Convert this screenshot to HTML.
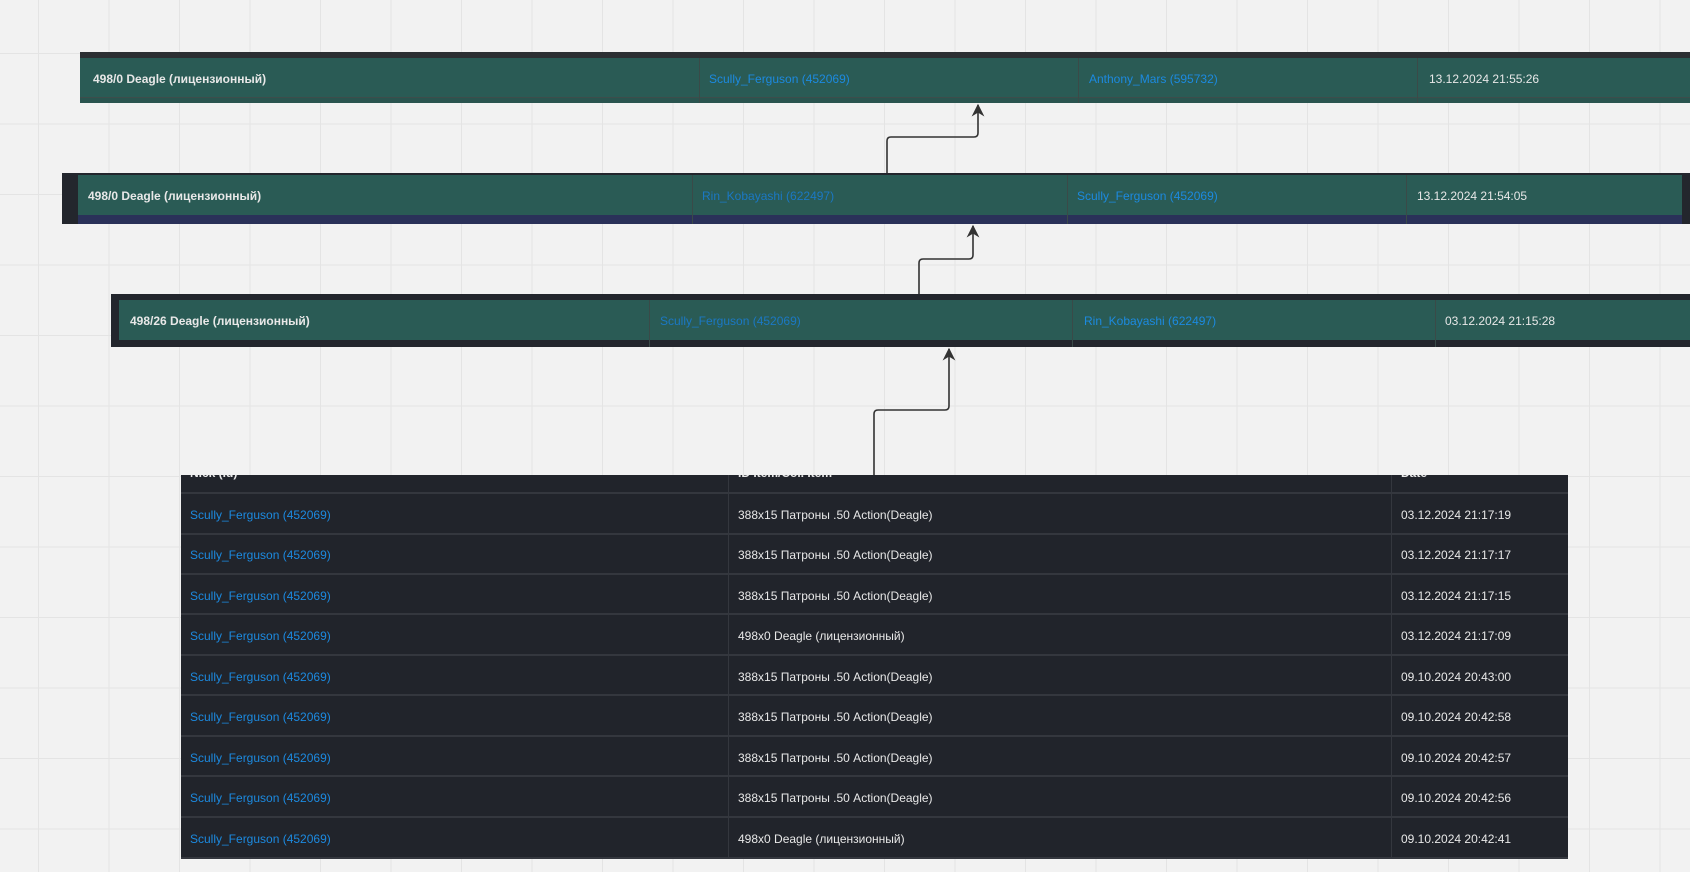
<!DOCTYPE html>
<html><head><meta charset="utf-8"><style>
*{margin:0;padding:0;box-sizing:border-box}
body{width:1690px;height:872px;overflow:hidden;position:relative;background-color:#f2f2f2;
background-image:linear-gradient(to right,#e4e4e4 1px,transparent 1px),linear-gradient(to bottom,#e4e4e4 1px,transparent 1px);
background-size:70.5px 70.5px;background-position:38px 53px;font-family:"Liberation Sans","DejaVu Sans",sans-serif;font-size:12px}
.abs{position:absolute}
.bar{position:absolute;overflow:hidden}
.t{position:absolute;white-space:nowrap;line-height:14px;color:#e8e8e8}
.b{font-weight:bold}
.l{color:#1c8ae0}
.vl{position:absolute;width:1px;background:#3a4a48}
.tb{position:absolute;left:181px;top:475px;width:1387px;height:384px;background:#21242b;overflow:hidden}
.row{position:absolute;left:0;width:1387px;height:2px;background:#34373e}
.tv{position:absolute;top:0;width:1px;height:384px;background:#34373e}
</style></head><body>

<div class="bar" style="left:80px;top:52px;width:1610px;height:51px;background:#2c2f33">
  <div class="abs" style="left:0;top:6px;width:1610px;height:40px;background:#2a5b55"></div>
  <div class="abs" style="left:0;top:46px;width:1610px;height:5px;background:#2a5b55;opacity:.85"></div>
  <div class="abs" style="left:0;top:45px;width:1610px;height:1px;background:#3d4d4b"></div>
  <div class="vl" style="left:619px;top:6px;height:45px"></div>
  <div class="vl" style="left:998px;top:6px;height:45px"></div>
  <div class="vl" style="left:1337px;top:6px;height:45px"></div>
</div>
<div class="t b" style="left:93px;top:72px">498/0 Deagle (лицензионный)</div>
<div class="t l" style="left:709px;top:72px">Scully_Ferguson (452069)</div>
<div class="t l" style="left:1089px;top:72px">Anthony_Mars (595732)</div>
<div class="t" style="left:1429px;top:72px">13.12.2024 21:55:26</div>

<div class="bar" style="left:62px;top:173px;width:1628px;height:51px;background:#23262d">
  <div class="abs" style="left:16px;top:2px;width:1604px;height:40px;background:#2a5b55"></div>
  <div class="abs" style="left:16px;top:42px;width:1604px;height:9px;background:#2a3159"></div>
  <div class="vl" style="left:630px;top:2px;height:49px"></div>
  <div class="vl" style="left:1005px;top:2px;height:49px"></div>
  <div class="vl" style="left:1344px;top:2px;height:49px"></div>
</div>
<div class="t b" style="left:88px;top:189px">498/0 Deagle (лицензионный)</div>
<div class="t l" style="left:702px;top:189px;color:#1b78c4">Rin_Kobayashi (622497)</div>
<div class="t l" style="left:1077px;top:189px">Scully_Ferguson (452069)</div>
<div class="t" style="left:1417px;top:189px">13.12.2024 21:54:05</div>

<div class="bar" style="left:111px;top:294px;width:1579px;height:53px;background:#23262d">
  <div class="abs" style="left:8px;top:6px;width:1571px;height:40px;background:#2a5b55"></div>
  <div class="vl" style="left:538px;top:6px;height:47px"></div>
  <div class="vl" style="left:961px;top:6px;height:47px"></div>
  <div class="vl" style="left:1324px;top:6px;height:47px"></div>
</div>
<div class="t b" style="left:130px;top:314px">498/26 Deagle (лицензионный)</div>
<div class="t l" style="left:660px;top:314px;color:#1b78c4">Scully_Ferguson (452069)</div>
<div class="t l" style="left:1084px;top:314px">Rin_Kobayashi (622497)</div>
<div class="t" style="left:1445px;top:314px">03.12.2024 21:15:28</div>

<div class="tb">
  <div class="t b" style="left:9px;top:-9px">Nick (Id)</div>
  <div class="t b" style="left:557px;top:-9px">ID Item/Col. Item</div>
  <div class="t b" style="left:1220px;top:-9px">Date</div>
  <div class="row" style="top:17px"></div>
  <div class="row" style="top:58px"></div>
  <div class="row" style="top:98px"></div>
  <div class="row" style="top:138px"></div>
  <div class="row" style="top:179px"></div>
  <div class="row" style="top:219px"></div>
  <div class="row" style="top:260px"></div>
  <div class="row" style="top:300px"></div>
  <div class="row" style="top:341px"></div>
  <div class="row" style="top:382px"></div>
  <div class="tv" style="left:547px"></div>
  <div class="tv" style="left:1210px"></div>
</div>

<div class="t l" style="left:190px;top:508px">Scully_Ferguson (452069)</div><div class="t" style="left:738px;top:508px">388x15 Патроны .50 Action(Deagle)</div><div class="t" style="left:1401px;top:508px">03.12.2024 21:17:19</div>
<div class="t l" style="left:190px;top:548px">Scully_Ferguson (452069)</div><div class="t" style="left:738px;top:548px">388x15 Патроны .50 Action(Deagle)</div><div class="t" style="left:1401px;top:548px">03.12.2024 21:17:17</div>
<div class="t l" style="left:190px;top:589px">Scully_Ferguson (452069)</div><div class="t" style="left:738px;top:589px">388x15 Патроны .50 Action(Deagle)</div><div class="t" style="left:1401px;top:589px">03.12.2024 21:17:15</div>
<div class="t l" style="left:190px;top:629px">Scully_Ferguson (452069)</div><div class="t" style="left:738px;top:629px">498x0 Deagle (лицензионный)</div><div class="t" style="left:1401px;top:629px">03.12.2024 21:17:09</div>
<div class="t l" style="left:190px;top:670px">Scully_Ferguson (452069)</div><div class="t" style="left:738px;top:670px">388x15 Патроны .50 Action(Deagle)</div><div class="t" style="left:1401px;top:670px">09.10.2024 20:43:00</div>
<div class="t l" style="left:190px;top:710px">Scully_Ferguson (452069)</div><div class="t" style="left:738px;top:710px">388x15 Патроны .50 Action(Deagle)</div><div class="t" style="left:1401px;top:710px">09.10.2024 20:42:58</div>
<div class="t l" style="left:190px;top:751px">Scully_Ferguson (452069)</div><div class="t" style="left:738px;top:751px">388x15 Патроны .50 Action(Deagle)</div><div class="t" style="left:1401px;top:751px">09.10.2024 20:42:57</div>
<div class="t l" style="left:190px;top:791px">Scully_Ferguson (452069)</div><div class="t" style="left:738px;top:791px">388x15 Патроны .50 Action(Deagle)</div><div class="t" style="left:1401px;top:791px">09.10.2024 20:42:56</div>
<div class="t l" style="left:190px;top:832px">Scully_Ferguson (452069)</div><div class="t" style="left:738px;top:832px">498x0 Deagle (лицензионный)</div><div class="t" style="left:1401px;top:832px">09.10.2024 20:42:41</div>

<svg class="abs" style="left:0;top:0" width="1690" height="872">
  <defs><marker id="a" viewBox="0 0 10 10" refX="9" refY="5" markerWidth="8" markerHeight="8" orient="auto"><path d="M0,0 L10,5 L0,10 L3,5 z" fill="#333"/></marker></defs>
  <g fill="none" stroke="#333" stroke-width="1.6">
    <path d="M887,173 V141 Q887,137 891,137 H974 Q978,137 978,133 V105" marker-end="url(#a)"/>
    <path d="M919,294 V263 Q919,259 923,259 H969 Q973,259 973,255 V226" marker-end="url(#a)"/>
    <path d="M874,475 V414 Q874,410 878,410 H945 Q949,410 949,406 V349" marker-end="url(#a)"/>
  </g>
</svg>
</body></html>
